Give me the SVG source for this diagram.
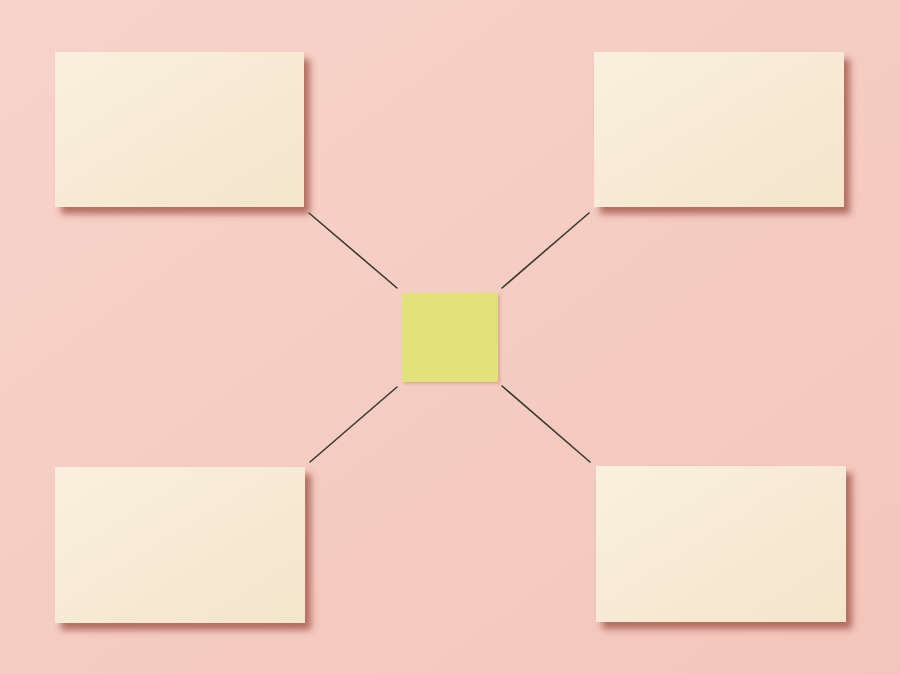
<svg xmlns="http://www.w3.org/2000/svg" width="900" height="674" viewBox="0 0 900 674">
<defs>
<filter id="sh" x="-10%" y="-10%" width="125%" height="130%">
<feDropShadow dx="6" dy="7" stdDeviation="3.5" flood-color="#8e3a2c" flood-opacity="0.65"/>
</filter>
<filter id="sh2" x="-10%" y="-10%" width="130%" height="130%">
<feDropShadow dx="2" dy="2" stdDeviation="1.5" flood-color="#b8705f" flood-opacity="0.4"/>
</filter>
<linearGradient id="bg" x1="0" y1="0" x2="1" y2="1">
<stop offset="0" stop-color="#f8d3ca"/>
<stop offset="1" stop-color="#f3c6bb"/>
</linearGradient>
<linearGradient id="card" x1="0" y1="0" x2="1" y2="1">
<stop offset="0" stop-color="#faf0dd"/>
<stop offset="1" stop-color="#f4e5cc"/>
</linearGradient>
</defs>
<style>
.card{fill:url(#card);filter:url(#sh)}
.note{fill:#e2e27a;filter:url(#sh2)}
.conn line{stroke:#3a3a30;stroke-width:1.6;stroke-linecap:round}
</style>
<rect width="900" height="674" fill="url(#bg)"/>
<g id="connectors" class="conn">
<line x1="309" y1="213" x2="397" y2="288"/>
<line x1="589" y1="213" x2="502" y2="288"/>
<line x1="397" y1="387" x2="310" y2="462"/>
<line x1="502" y1="386" x2="590" y2="462"/>
</g>
<g id="card-tl"><rect class="card" x="55" y="52" width="249" height="155"/></g>
<g id="card-tr"><rect class="card" x="594" y="52" width="250" height="155"/></g>
<g id="card-bl"><rect class="card" x="55" y="467" width="250" height="156"/></g>
<g id="card-br"><rect class="card" x="596" y="466" width="250" height="156"/></g>
<g id="center"><rect class="note" x="402" y="293" width="96" height="89"/></g>
</svg>
